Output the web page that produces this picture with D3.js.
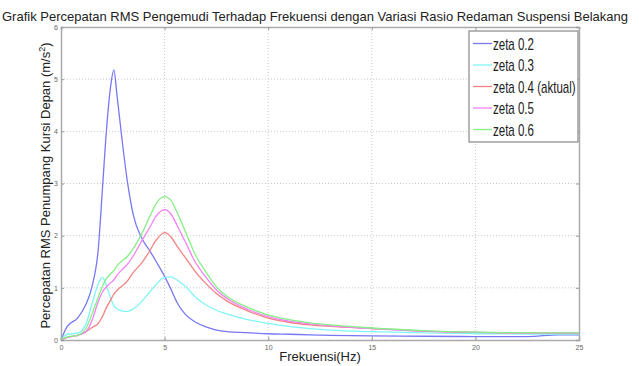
<!DOCTYPE html>
<html lang="en">
<head>
    <meta charset="UTF-8">
    <title>Grafik Percepatan RMS</title>
    <script src="https://d3js.org/d3.v7.min.js"></script>
    <style>
        body { margin: 0; background: #fff; font-family: "Liberation Sans", Arial, sans-serif; }
        .grid line { stroke: #c8c8c8; stroke-dasharray: 1,2; }
        .series { fill: none; stroke-width: 1.3; }
    </style>
</head>
<body>
<div id="chart"></div>
<script>
    // frequency grid (Hz)
    var freq = [0, 0.3, 0.8, 1.2, 1.5, 1.8, 2.0, 2.2, 2.4, 2.55, 2.7, 2.9, 3.2, 3.5, 3.9, 4.3, 4.6,
                5.0, 5.3, 5.6, 6.0, 6.5, 7.0, 7.5, 8.0, 9, 10, 11, 12, 13, 15, 17.5, 20, 22.5, 24, 25];

    var zeta02 = [0, 0.26, 0.42, 0.68, 1.03, 1.75, 2.9, 4.05, 4.88, 5.18, 4.7, 4.0, 3.05, 2.38, 1.95, 1.7, 1.5,
                  1.22, 0.98, 0.72, 0.49, 0.34, 0.25, 0.19, 0.16, 0.14, 0.12, 0.11, 0.10, 0.09, 0.08, 0.072, 0.066, 0.065, 0.1, 0.1];
    var zeta03 = [0, 0.11, 0.13, 0.3, 0.7, 1.08, 1.2, 1.03, 0.8, 0.66, 0.6, 0.56, 0.55, 0.6, 0.74, 0.93, 1.07,
                  1.2, 1.21, 1.15, 1.03, 0.82, 0.67, 0.57, 0.5, 0.39, 0.32, 0.26, 0.22, 0.19, 0.16, 0.135, 0.12, 0.115, 0.115, 0.115];
    var zeta04 = [0, 0.05, 0.09, 0.16, 0.24, 0.32, 0.45, 0.63, 0.77, 0.88, 0.95, 1.02, 1.13, 1.3, 1.48, 1.72, 1.92,
                  2.06, 1.98, 1.8, 1.58, 1.3, 1.08, 0.89, 0.75, 0.56, 0.42, 0.34, 0.29, 0.26, 0.22, 0.17, 0.146, 0.135, 0.13, 0.13];
    var zeta05 = [0, 0.05, 0.09, 0.16, 0.38, 0.74, 0.92, 1.02, 1.1, 1.15, 1.24, 1.33, 1.45, 1.62, 1.9, 2.17, 2.38,
                  2.5, 2.42, 2.2, 1.88, 1.48, 1.2, 0.96, 0.8, 0.59, 0.45, 0.36, 0.31, 0.27, 0.22, 0.17, 0.146, 0.135, 0.13, 0.13];
    var zeta06 = [0, 0.06, 0.09, 0.22, 0.5, 0.82, 1.03, 1.18, 1.27, 1.33, 1.42, 1.5, 1.6, 1.76, 2.04, 2.38, 2.62,
                  2.75, 2.68, 2.45, 2.08, 1.62, 1.3, 1.02, 0.84, 0.63, 0.48, 0.39, 0.33, 0.29, 0.23, 0.18, 0.15, 0.14, 0.135, 0.135];

    var seriesNames = ["zeta 0.2", "zeta 0.3", "zeta 0.4 (aktual)", "zeta 0.5", "zeta 0.6"];
    var seriesValues = [zeta02, zeta03, zeta04, zeta05, zeta06];
    var seriesColors = ["#7878f5", "#80f5f5", "#f58282", "#f580f5", "#86f086"];

    var xTicks = [0, 5, 10, 15, 20, 25];
    var yTicks = [0, 1, 2, 3, 4, 5, 6];

    var W = 639, H = 366;
    var margin = {top: 27, right: 60, bottom: 26, left: 61},
        w = W - margin.left - margin.right,
        h = H - margin.top - margin.bottom;

    var svg = d3.select("#chart").append("svg")
        .attr("width", W)
        .attr("height", H);

    var g = svg.append("g")
        .attr("transform", "translate(" + margin.left + "," + margin.top + ")");

    var x = d3.scaleLinear().domain([0, 25]).range([0, w]);
    var y = d3.scaleLinear().domain([0, 6]).range([h, 0]);

    // grid lines
    var grid = g.append("g").attr("class", "grid");
    grid.selectAll(".gx").data(xTicks.slice(1, -1)).enter().append("line")
        .attr("x1", function(d) { return x(d); }).attr("x2", function(d) { return x(d); })
        .attr("y1", 0).attr("y2", h);
    grid.selectAll(".gy").data(yTicks.slice(1, -1)).enter().append("line")
        .attr("y1", function(d) { return y(d); }).attr("y2", function(d) { return y(d); })
        .attr("x1", 0).attr("x2", w);

    // curves
    var line = d3.line()
        .x(function(d) { return x(d[0]); })
        .y(function(d) { return y(d[1]); })
        .curve(d3.curveMonotoneX);

    seriesValues.forEach(function(vals, i) {
        g.append("path")
            .datum(freq.map(function(f, j) { return [f, vals[j]]; }))
            .attr("class", "series")
            .attr("stroke", seriesColors[i])
            .attr("d", line);
    });

    // axes (ticks pointing inward, box around plot)
    var fmt = d3.format("d");
    g.append("g").attr("transform", "translate(0," + h + ")")
        .call(d3.axisBottom(x).tickValues(xTicks).tickFormat(fmt).tickSize(-3).tickPadding(5));
    g.append("g")
        .call(d3.axisLeft(y).tickValues(yTicks).tickFormat(fmt).tickSize(-3).tickPadding(3));
    g.append("g").call(d3.axisTop(x).tickValues(xTicks).tickSize(-3).tickFormat(""));
    g.append("g").attr("transform", "translate(" + w + ",0)")
        .call(d3.axisRight(y).tickValues(yTicks).tickSize(-3).tickFormat(""));

    g.selectAll(".domain").attr("stroke", "#aaa").attr("stroke-width", 1.5);
    g.selectAll(".tick line").attr("stroke", "#999");
    g.selectAll(".tick text").style("font-size", "7px").attr("fill", "#666");

    // title and axis labels
    svg.append("text")
        .attr("x", 315).attr("y", 21)
        .attr("text-anchor", "middle")
        .style("font-size", "13px")
        .attr("fill", "#222")
        .text("Grafik Percepatan RMS Pengemudi Terhadap Frekuensi dengan Variasi Rasio Redaman Suspensi Belakang");

    svg.append("text")
        .attr("x", margin.left + w / 2).attr("y", 361)
        .attr("text-anchor", "middle")
        .style("font-size", "13px")
        .attr("fill", "#222")
        .text("Frekuensi(Hz)");

    var yl = svg.append("text")
        .attr("transform", "translate(50," + (margin.top + h / 2 + 2) + ") rotate(-90)")
        .attr("text-anchor", "middle")
        .style("font-size", "13px")
        .attr("fill", "#222");
    yl.append("tspan").text("Percepatan RMS Penumpang Kursi Depan (m/s");
    yl.append("tspan").attr("dy", -5).style("font-size", "9px").text("2");
    yl.append("tspan").attr("dy", 5).text(")");

    // legend
    var lg = svg.append("g").attr("transform", "translate(469,31)");
    lg.append("rect")
        .attr("width", 109).attr("height", 111)
        .attr("fill", "#fff")
        .attr("stroke", "#888").attr("stroke-width", 1.2);
    seriesNames.forEach(function(name, i) {
        var ry = 12.5 + i * 21.5;
        lg.append("line")
            .attr("x1", 4).attr("x2", 23)
            .attr("y1", ry).attr("y2", ry)
            .attr("stroke", seriesColors[i]).attr("stroke-width", 1.3);
        lg.append("text")
            .attr("transform", "translate(24," + (ry + 6) + ") scale(0.72,1)")
            .style("font-size", "16px")
            .attr("fill", "#222")
            .text(name);
    });
</script>
</body>
</html>
